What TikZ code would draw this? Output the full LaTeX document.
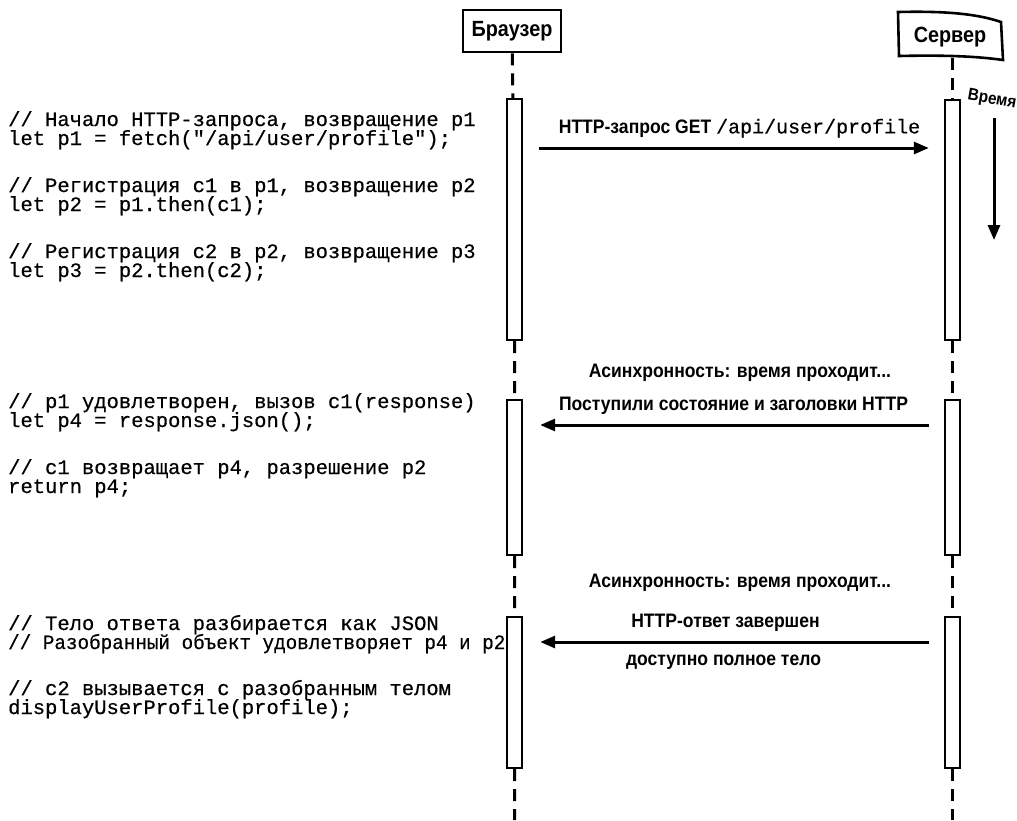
\documentclass[tikz,border=0pt]{standalone}
\usepackage{fontspec}
\setmainfont{Liberation Serif}
\newfontfamily\codefont{Liberation Mono}[FakeBold=0.5]
\newfontfamily\lblfont{Liberation Sans Bold}[FakeStretch=0.9]
\usetikzlibrary{arrows.meta,positioning}

\begin{document}
\begin{tikzpicture}[x=1pt,y=-1pt,
    header/.style={draw,line width=2.6pt,minimum width=98pt,minimum height=42pt,inner sep=0pt,font=\lblfont\fontsize{22}{22}\selectfont},
    bar/.style={draw,line width=2.4pt,minimum width=15pt,inner sep=0pt},
    lifeline/.style={line width=3pt,dash pattern=on 12pt off 8pt},
    msg/.style={line width=3pt,-{Triangle[length=15pt,width=12pt]}},
    code/.style={anchor=base west,inner sep=0pt,font=\codefont\fontsize{20.5}{19}\selectfont},
    lbl/.style={inner sep=0pt,font=\lblfont\fontsize{19.5}{19.5}\selectfont}]
  \useasboundingbox (0,0) rectangle (1017,820);

  % participants
  \node[header] (browser) at (512,31) {Браузер};
  \draw[line width=2.6pt] (898,12) .. controls (940,11) and (975,13) .. (1001,22)
    -- (1003,60) .. controls (975,56) and (940,55) .. (899,56) -- cycle;
  \node[inner sep=0pt,font=\lblfont\fontsize{22}{22}\selectfont] (server) at (950,37) {Сервер};
  \coordinate (sbot) at (952.5,58);

  % activation bars
  \node[bar,minimum height=241pt] (bb1) at (514.5,219.5) {};
  \node[bar,minimum height=155pt] (bb2) at (514.5,477.5) {};
  \node[bar,minimum height=151pt] (bb3) at (514.5,692.5) {};
  \node[bar,minimum height=240pt] (sb1) at (952.5,220) {};
  \node[bar,minimum height=155pt] (sb2) at (952.5,477.5) {};
  \node[bar,minimum height=151pt] (sb3) at (952.5,692.5) {};
  \coordinate (bend) at (514.5,820);
  \coordinate (send) at (952.5,820);

  % lifelines
  \draw[lifeline] (browser) -- (bb1) (bb1) -- (bb2) (bb2) -- (bb3) (bb3) -- (bend);
  \draw[lifeline] (sbot) -- (sb1) (sb1) -- (sb2) (sb2) -- (sb3) (sb3) -- (send);

  % messages
  \coordinate (req) at (0,148);
  \coordinate (hdr) at (0,425);
  \coordinate (body) at (0,642);
  \draw[msg,shorten <=16pt,shorten >=15pt] (bb1.east |- req) -- (sb1.west |- req)
    node[lbl,midway,above=9pt,xshift=6pt] {HTTP-запрос GET {\codefont\fontsize{20}{19}\selectfont/api/user/profile}};
  \draw[msg,shorten <=15pt,shorten >=17pt] (sb2.west |- hdr) -- (bb2.east |- hdr)
    node[lbl,midway,above=9pt] {Поступили состояние и заголовки HTTP};
  \draw[msg,shorten <=15pt,shorten >=17pt] (sb3.west |- body) -- (bb3.east |- body)
    node[lbl,midway,above=9pt,xshift=-8pt] {HTTP-ответ завершен}
    node[lbl,midway,below=11pt,xshift=-10pt] {доступно полное тело};

  \node[lbl] (wait1) at (740,373) {Асинхронность: время проходит...};
  \node[lbl] (wait2) at (740,583) {Асинхронность: время проходит...};

  % time axis
  \node[lbl,rotate=-10,font=\lblfont\fontsize{17}{17}\selectfont] (time) at (992,100) {Время};
  \coordinate (t0) at (994,118);
  \coordinate (t1) at (994,240);
  \draw[msg] (t0) -- (t1);

  % code
  \node[code] (c1) at (8,126) {// Начало HTTP-запроса, возвращение p1};
  \node[code] (c2) at (8,145) {let p1 = fetch("/api/user/profile");};
  \node[code] (c3) at (8,192) {// Регистрация c1 в p1, возвращение p2};
  \node[code] (c4) at (8,211) {let p2 = p1.then(c1);};
  \node[code] (c5) at (8,258) {// Регистрация c2 в p2, возвращение p3};
  \node[code] (c6) at (8,277) {let p3 = p2.then(c2);};
  \node[code] (c7) at (8,408) {// p1 удовлетворен, вызов c1(response)};
  \node[code] (c8) at (8,427) {let p4 = response.json();};
  \node[code] (c9) at (8,474) {// c1 возвращает p4, разрешение p2};
  \node[code] (c10) at (8,493) {return p4;};
  \node[code] (c11) at (8,630) {// Тело ответа разбирается как JSON};
  \node[code,xscale=0.94,transform shape] (c12) at (8,649) {// Разобранный объект удовлетворяет p4 и p2};
  \node[code] (c13) at (8,695) {// c2 вызывается с разобранным телом};
  \node[code] (c14) at (8,714) {displayUserProfile(profile);};
\end{tikzpicture}
\end{document}
